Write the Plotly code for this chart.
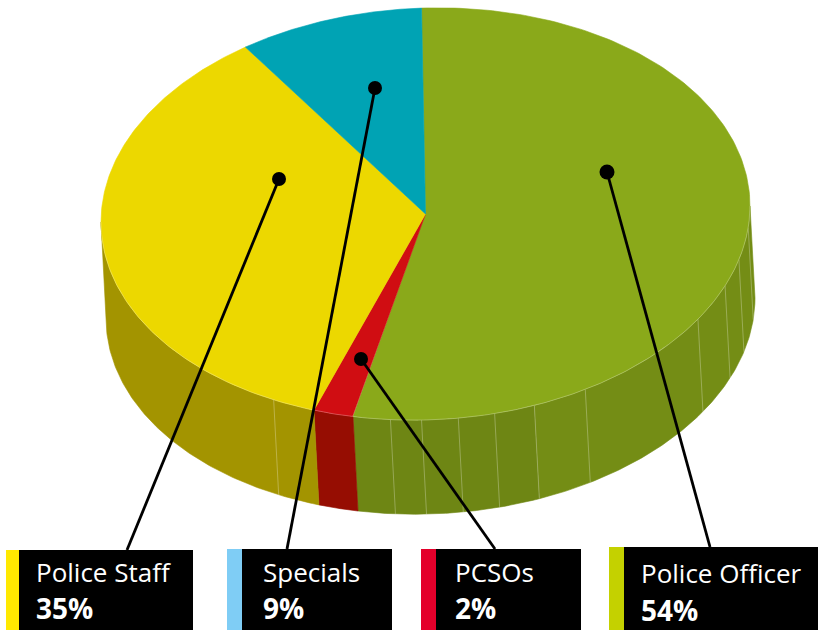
import numpy as np
import plotly.graph_objects as go

categories = ["Police Officer", "PCSOs", "Police Staff", "Specials"]
label_values = [54, 2, 35, 9]
# shares as drawn in the picture (the printed labels are rounded)
slice_values = [53.78, 2.0, 35.05, 9.17]
top_colors = ["#8aa91a", "#d00d12", "#ecd800", "#00a3b4"]
side_colors = ["#6e8614", "#960d02", "#a39400", "#007a87"]
side_light = "#748d15"
side_light_from = 160.4
strip_colors = ["#c4d100", "#e4002b", "#ffe900", "#7fcdf5"]

# legend box geometry: strip left, black left, black right, top
boxes = {
    "Police Staff": (6, 19, 193, 550),
    "Specials": (227, 242, 392, 549),
    "PCSOs": (421, 436, 581, 549),
    "Police Officer": (609, 624, 818, 547),
}
text_x = {"Police Staff": 34, "Specials": 261, "PCSOs": 453, "Police Officer": 639}
text_y = {"Police Staff": (572, 607.5), "Specials": (572, 607.5),
          "PCSOs": (572, 607.5), "Police Officer": (573, 610)}
# leader: dot position, end on box
leaders = {
    "Police Officer": ((607, 172), (710, 547)),
    "PCSOs": ((361, 359), (495, 549)),
    "Police Staff": ((279, 179), (127, 550)),
    "Specials": ((375, 88), (287, 549)),
}
seam_angles = [96, 105, 112.6, 122.9, 150.5, 160.4, 167.7, 174.2, 180.7, 186.2, 207.9]

W, H = 818, 630
START = -0.7
TOP = dict(cx=425.5, cy=214, rx=324.5, ry=206, tilt=8)
BOT = dict(cx=430.5, cy=308, rx=324.5, ry=206, tilt=10)


def ell(e, deg):
    t = np.radians(np.asarray(deg, dtype=float))
    return (e["cx"] + e["rx"] * np.sin(t),
            e["cy"] - e["ry"] * np.cos(t) - e["tilt"] * np.sin(t))


fig = go.Figure()
common = dict(mode="lines", hoverinfo="skip", showlegend=False)

edges = START + np.concatenate([[0], np.cumsum(slice_values)]) * 3.6


def wall(a, b, color):
    ts = np.linspace(a, b, 120)
    x1, y1 = ell(TOP, ts)
    x2, y2 = ell(BOT, ts[::-1])
    fig.add_trace(go.Scatter(x=np.r_[x1, x2, x1[0]], y=np.r_[y1, y2, y1[0]], fill="toself",
                             fillcolor=color, line=dict(width=0.6, color=color), **common))


# side walls
for i, c in enumerate(categories):
    a, b = max(edges[i], 90), min(edges[i + 1], 270)
    if b <= a:
        continue
    if c == "Police Officer":
        wall(a, side_light_from, side_light)
        wall(side_light_from, b, side_colors[i])
    else:
        wall(a, b, side_colors[i])

# facet seams on the wall
for s in seam_angles:
    x1, y1 = ell(TOP, s)
    x2, y2 = ell(BOT, s)
    fig.add_trace(go.Scatter(x=[x1, x2], y=[y1, y2],
                             line=dict(color="rgba(255,255,255,0.28)", width=1), **common))

# top slices
for i, c in enumerate(categories):
    ts = np.linspace(edges[i], edges[i + 1], 200)
    x, y = ell(TOP, ts)
    fig.add_trace(go.Scatter(x=np.r_[TOP["cx"], x, TOP["cx"]], y=np.r_[TOP["cy"], y, TOP["cy"]],
                             fill="toself", fillcolor=top_colors[i],
                             line=dict(width=0.6, color=top_colors[i]),
                             name=c, **common))

# light rim
ts = np.linspace(90, 270, 300)
x, y = ell(TOP, ts)
fig.add_trace(go.Scatter(x=x, y=y, line=dict(color="rgba(255,255,255,0.25)", width=1), **common))

# leader lines and dots
for c, (d, e) in leaders.items():
    fig.add_trace(go.Scatter(x=[d[0], e[0]], y=[d[1], e[1]], mode="lines",
                             line=dict(color="#000000", width=2.8),
                             hoverinfo="skip", showlegend=False))
    fig.add_trace(go.Scatter(x=[d[0]], y=[d[1]], mode="markers",
                             marker=dict(color="#000000", size=15 if c == "Police Officer" else 14),
                             hoverinfo="skip", showlegend=False))

# legend boxes
shapes = []
annotations = []
for i, c in enumerate(categories):
    l, m, r, t = boxes[c]
    shapes.append(dict(type="rect", x0=l, x1=m, y0=t, y1=H, fillcolor=strip_colors[i],
                       line=dict(width=0), layer="above"))
    shapes.append(dict(type="rect", x0=m, x1=r, y0=t, y1=H, fillcolor="#000000",
                       line=dict(width=0), layer="above"))
    annotations.append(dict(x=text_x[c], y=text_y[c][0], text=c, showarrow=False, xanchor="left",
                            yanchor="middle",
                            font=dict(family="Open Sans", size=26, color="#ffffff")))
    annotations.append(dict(x=text_x[c], y=text_y[c][1], text=f"<b>{label_values[i]}%</b>",
                            showarrow=False, xanchor="left", yanchor="middle",
                            font=dict(family="Open Sans", size=28, color="#ffffff")))

fig.update_layout(
    width=W, height=H, margin=dict(l=0, r=0, t=0, b=0),
    paper_bgcolor="#ffffff", plot_bgcolor="#ffffff",
    xaxis=dict(range=[0, W], visible=False, fixedrange=True),
    yaxis=dict(range=[H, 0], visible=False, fixedrange=True),
    shapes=shapes, annotations=annotations,
)
fig.write_html("out.html", config={"displayModeBar": False},
               post_script="document.body.style.margin='0';document.body.style.overflow='hidden';")
